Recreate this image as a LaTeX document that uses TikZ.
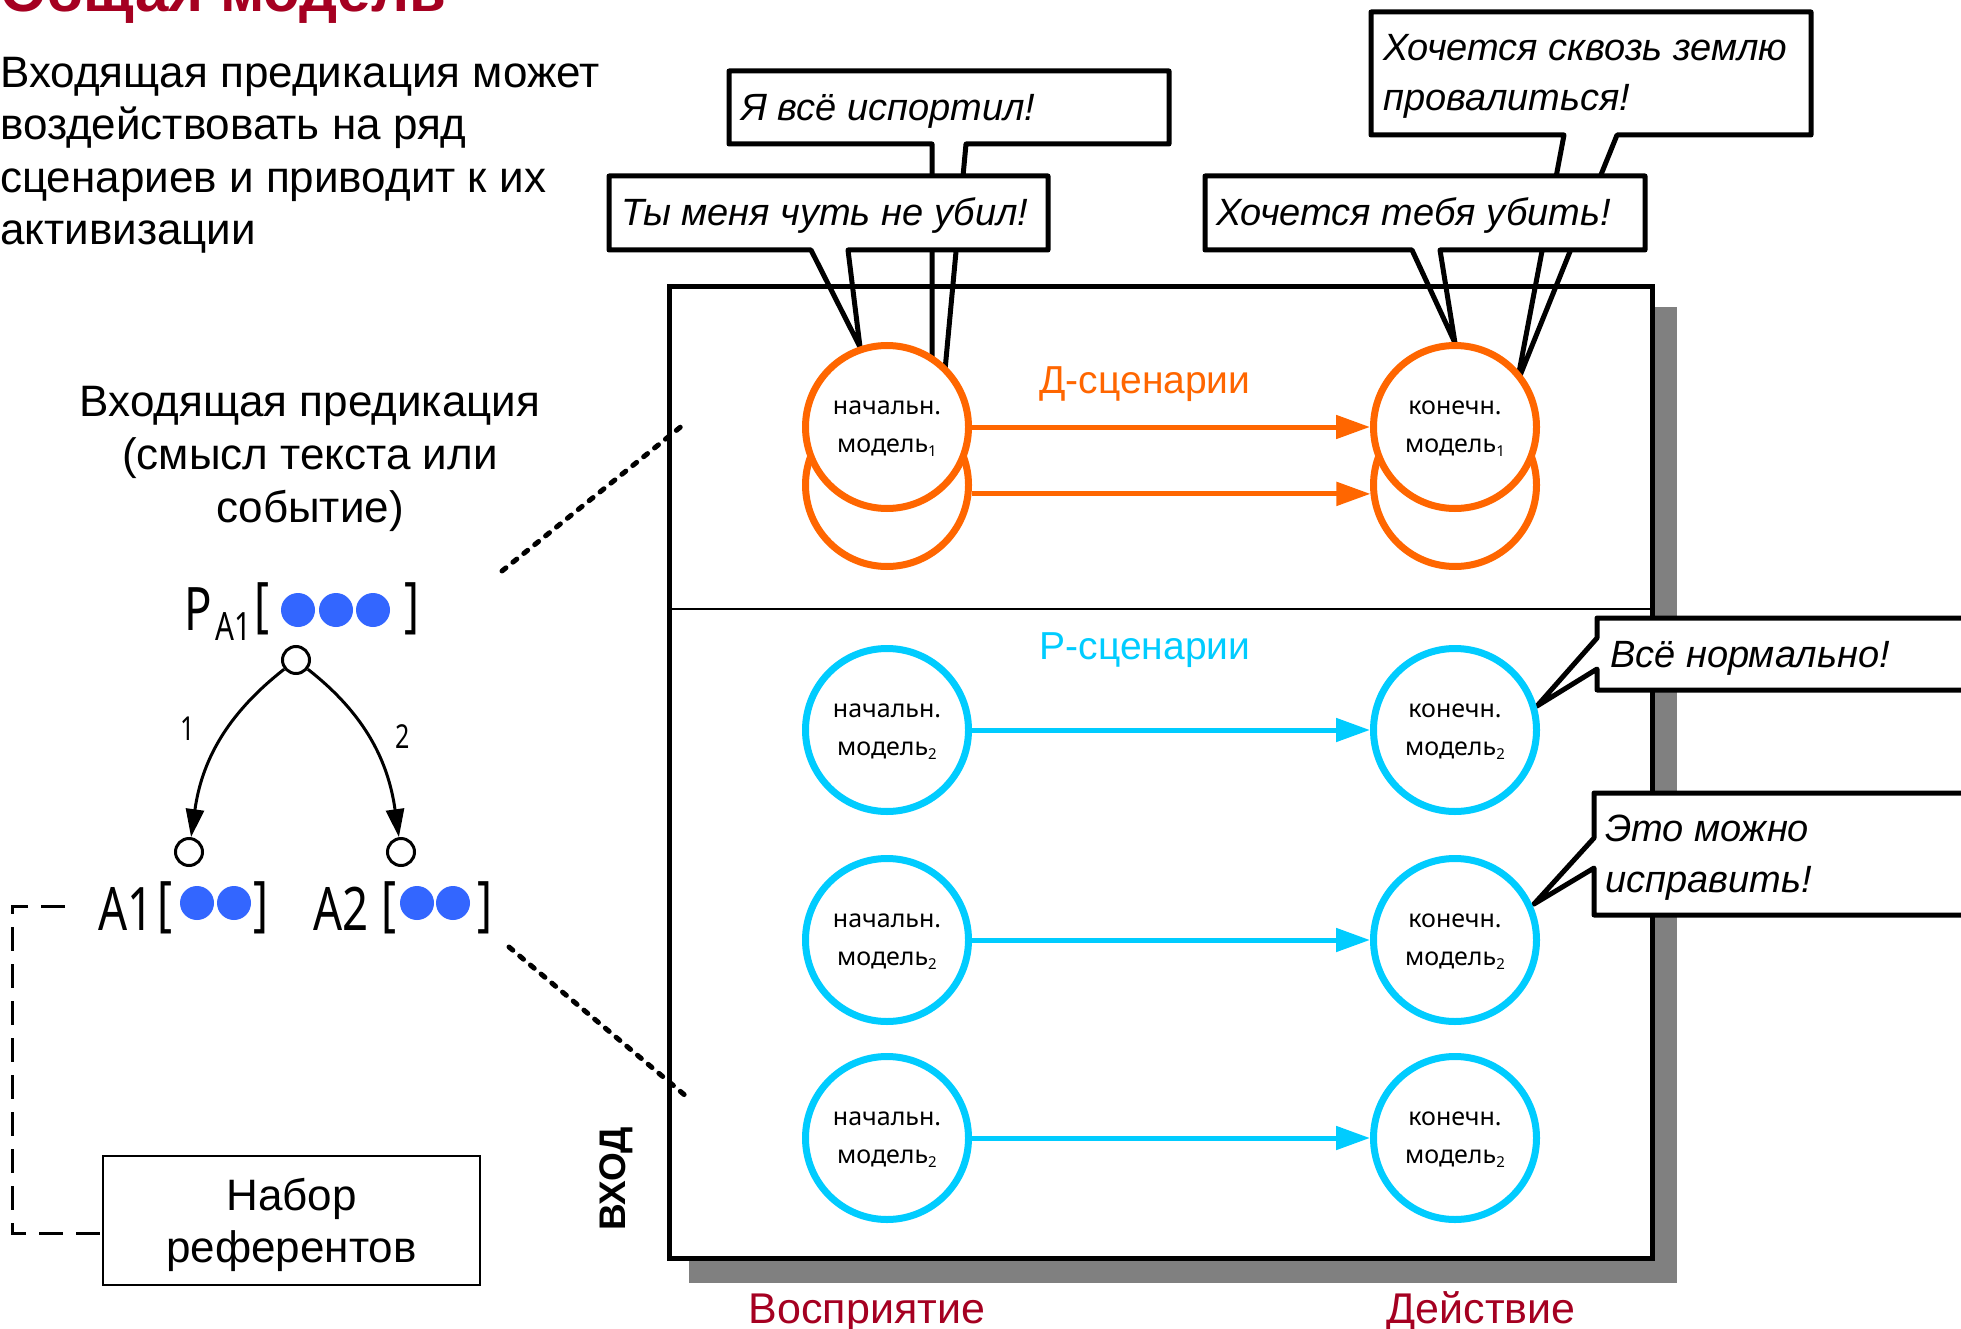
\documentclass[tikz,border=0pt]{standalone}
\usepackage{fontspec}
\setmainfont{Liberation Sans}
\newfontfamily\techfont{Noto Sans}
\newfontfamily\technarrow[FakeStretch=0.76]{Noto Sans}
\usetikzlibrary{arrows.meta}
\definecolor{titlered}{RGB}{165,0,33}
\definecolor{dorange}{RGB}{255,102,0}
\definecolor{rcyan}{RGB}{0,204,255}
\definecolor{dotblue}{RGB}{51,102,255}
\definecolor{shadowgray}{RGB}{128,128,128}
\newcommand\lowidx[1]{\raisebox{-4pt}{\fontsize{15}{15}\selectfont #1}}
\begin{document}
\begin{tikzpicture}[x=1pt,y=1pt,
  body/.style={inner sep=0pt, font=\fontsize{44}{52.6}\selectfont},
  sayshape/.style={draw=black, line width=5pt, line join=round, line cap=round},
  saytext/.style={anchor=base west, inner sep=0pt, align=left, font=\itshape\fontsize{38}{50.5}\selectfont},
  model/.style={circle, minimum size=163pt, line width=7pt, fill=white, inner sep=0pt, align=center, text depth=0pt, font=\techfont\fontsize{25}{38}\selectfont},
  dmodel/.style={model, draw=dorange},
  rmodel/.style={model, draw=rcyan},
  dflow/.style={draw=dorange, line width=5pt, -{Triangle[length=34pt,width=23pt]}},
  rflow/.style={draw=rcyan, line width=5pt, -{Triangle[length=34pt,width=23pt]}},
  slot/.style={circle, draw=black, fill=white, line width=3pt, minimum size=27pt, inner sep=0pt},
  role/.style={-{Triangle[length=28pt,width=18pt]}, line width=3pt},
  glyph/.style={anchor=base west, inner sep=0pt, font=\technarrow\fontsize{60}{60}\selectfont},
  subglyph/.style={anchor=base west, inner sep=0pt, font=\technarrow\fontsize{39}{39}\selectfont},
  argdot/.style={circle, fill=dotblue, minimum size=34pt, inner sep=0pt},
  linkdots/.style={line width=5pt, line cap=round, dash pattern=on 5pt off 9pt},
  linkdash/.style={line width=3pt, dash pattern=on 24pt off 13pt},
]
\useasboundingbox (0,0) rectangle (1961,-1329);
\fill[white] (0,0) rectangle (1961,-1329);

% heading and introduction
\node[anchor=base west, inner sep=0pt, text=titlered, font=\bfseries\fontsize{60}{60}\selectfont] (title) at (0,-12) {Общая модель};
\node[body, anchor=base west, align=left] (intro) at (0,-245)
  {Входящая предикация может\\воздействовать на ряд\\сценариев и приводит к их\\активизации};

% scenario frame with its shadow
\fill[shadowgray] (689,-307) rectangle (1677,-1283);
\draw[line width=5pt, fill=white] (669,-287) rectangle (1652,-1258);
\draw[line width=2.5pt] (669,-609) -- (1652,-609);

% speech bubbles: white body, then the outline with its open tail
\fill[white] (729,-71) rectangle (1169,-144);
\draw[sayshape] (932,-510) -- (932,-144) -- (729,-144) -- (729,-71) -- (1169,-71) -- (1169,-144) -- (966,-144) -- (932,-510);
\node[saytext] (say2) at (741,-121) {Я всё испортил!};
\fill[white] (609,-176) rectangle (1048,-250);
\draw[sayshape] (860,-347) -- (811,-250) -- (609,-250) -- (609,-176) -- (1048,-176) -- (1048,-250) -- (848,-250) -- cycle;
\node[saytext] (say1) at (621,-226) {Ты меня чуть не убил!};
\fill[white] (1371,-12) rectangle (1811,-135);
\draw[sayshape] (1517,-383) -- (1564,-135) -- (1371,-135) -- (1371,-12) -- (1811,-12) -- (1811,-135) -- (1617,-135) -- cycle;
\node[saytext] (say4) at (1383,-111) {Хочется сквозь землю\\провалиться!};
\fill[white] (1205,-176) rectangle (1645,-250);
\draw[sayshape] (1455,-343) -- (1412,-250) -- (1205,-250) -- (1205,-176) -- (1645,-176) -- (1645,-250) -- (1440,-250) -- cycle;
\node[saytext] (say3) at (1216,-226) {Хочется тебя убить!};
\fill[white] (1597,-618) rectangle (1985,-690);
\draw[sayshape] (1537,-706) -- (1597,-638) -- (1597,-618) -- (1985,-618) -- (1985,-690) -- (1597,-690) -- (1597,-669) -- cycle;
\node[saytext] (say5) at (1610,-667) {Всё нормально!};
\fill[white] (1594,-793) rectangle (1985,-915);
\draw[sayshape] (1534,-904) -- (1594,-838) -- (1594,-793) -- (1985,-793) -- (1985,-915) -- (1594,-915) -- (1594,-868) -- cycle;
\node[saytext] (say6) at (1605,-892) {Это можно\\исправить!};

% D-scenarios
\node[dmodel] (ds1b) at (887,-485) {};
\node[dmodel] (ds1) at (887,-427) {начальн.\\модель\lowidx{1}};
\node[dmodel] (de1b) at (1455,-485) {};
\node[dmodel] (de1) at (1455,-427) {конечн.\\модель\lowidx{1}};
\draw[dflow] (ds1) -- (de1);
\draw[dflow] (ds1b.-6) -- (de1b.186);
\node[anchor=base, inner sep=0pt, text=dorange, font=\fontsize{39}{39}\selectfont] (dlabel) at (1145,-393) {Д-сценарии};

% R-scenarios
\node[anchor=base, inner sep=0pt, text=rcyan, font=\fontsize{39}{39}\selectfont] (rlabel) at (1145,-659) {Р-сценарии};
\node[rmodel] (rs1) at (887,-730) {начальн.\\модель\lowidx{2}};
\node[rmodel] (re1) at (1455,-730) {конечн.\\модель\lowidx{2}};
\node[rmodel] (rs2) at (887,-940) {начальн.\\модель\lowidx{2}};
\node[rmodel] (re2) at (1455,-940) {конечн.\\модель\lowidx{2}};
\node[rmodel] (rs3) at (887,-1138) {начальн.\\модель\lowidx{2}};
\node[rmodel] (re3) at (1455,-1138) {конечн.\\модель\lowidx{2}};
\draw[rflow] (rs1) -- (re1);
\draw[rflow] (rs2) -- (re2);
\draw[rflow] (rs3) -- (re3);

% frame captions
\node[rotate=90, inner sep=0pt, font=\bfseries\fontsize{37}{37}\selectfont] (vhod) at (616,-1179) {ВХОД};
\node[anchor=base, inner sep=0pt, text=titlered, font=\fontsize{43}{43}\selectfont] (perc) at (867,-1323) {Восприятие};
\node[anchor=base, inner sep=0pt, text=titlered, font=\fontsize{43}{43}\selectfont] (act) at (1481,-1323) {Действие};

% incoming predication
\node[body, anchor=base, align=center] (incoming) at (310,-522) {Входящая предикация\\(смысл текста или\\событие)};
\coordinate (zoomA1) at (502,-571);
\coordinate (zoomA2) at (683,-425);
\coordinate (zoomB1) at (509,-947);
\coordinate (zoomB2) at (687,-1097);
\draw[linkdots] (zoomA1) -- (zoomA2);
\draw[linkdots] (zoomB1) -- (zoomB2);

% predicate and its arguments
\node[glyph] (pP) at (184,-630) {P};
\node[subglyph] (pSub) at (215,-640) {A1};
\node[glyph] (pOpen) at (254,-625) {[};
\node[argdot] (pd1) at (298,-610) {};
\node[argdot] (pd2) at (336,-610) {};
\node[argdot] (pd3) at (373,-610) {};
\node[glyph] (pClose) at (404,-625) {]};
\node[slot] (pslot) at (296,-660) {};
\node[slot] (a1slot) at (189,-852) {};
\node[slot] (a2slot) at (401,-852) {};
\draw[role] (pslot) to[out=218, in=82] (a1slot);
\draw[role] (pslot) to[out=-38, in=98] (a2slot);
\node[inner sep=0pt, font=\technarrow\fontsize{33}{33}\selectfont] (lab1) at (188,-729) {1};
\node[inner sep=0pt, font=\technarrow\fontsize{33}{33}\selectfont] (lab2) at (403,-737) {2};

\node[glyph] (aA1) at (98,-930) {A1};
\node[glyph] (a1Open) at (157,-924) {[};
\node[argdot] (a1d1) at (197,-903) {};
\node[argdot] (a1d2) at (234,-903) {};
\node[glyph] (a1Close) at (253,-924) {]};
\node[glyph] (aA2) at (313,-930) {A2};
\node[glyph] (a2Open) at (381,-924) {[};
\node[argdot] (a2d1) at (417,-903) {};
\node[argdot] (a2d2) at (453,-903) {};
\node[glyph] (a2Close) at (477,-924) {]};

% referent set
\node[draw, line width=2pt, minimum width=377pt, minimum height=129pt, inner sep=0pt, align=center, text depth=0pt, font=\fontsize{44}{52.6}\selectfont] (refs) at (291.5,-1220.5) {Набор\\референтов};
\coordinate (dashA) at (65,-906);
\coordinate (dashCorner) at (12,-1233);
\draw[linkdash] (dashA) -| (dashCorner) -- (refs.west |- dashCorner);
\end{tikzpicture}
\end{document}
